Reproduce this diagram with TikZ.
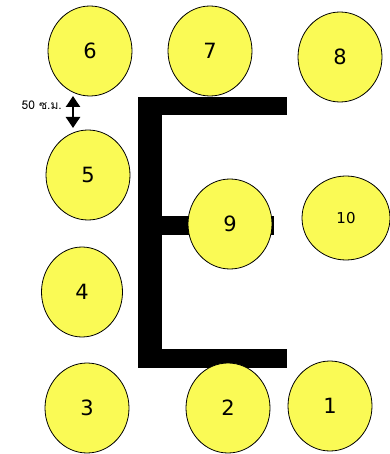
\documentclass[tikz,border=0pt]{standalone}
\usepackage{fontspec}
\setmainfont{DejaVu Sans}
\newfontfamily\thaifont[Script=Thai]{Loma}
\usetikzlibrary{arrows.meta,shapes.geometric}

\begin{document}
\begin{tikzpicture}[x=1pt,y=-1pt,
  seat/.style={draw,ellipse,fill=seatyellow,line width=.8pt,
    minimum width=84pt,minimum height=90pt,inner sep=0pt,font=\fontsize{21}{24}\selectfont},
  bar/.style={fill=black},
  gap/.style={{Triangle[length=11pt,width=14pt]}-{Triangle[length=11pt,width=14pt]},line width=2.5pt},
  lab/.style={font=\thaifont\fontsize{12}{14}\selectfont,inner sep=1pt}]
\definecolor{seatyellow}{RGB}{250,250,85}
\useasboundingbox (0,0) rectangle (389,454);
% table
\fill[bar] (138,97) rectangle (287,115);
\fill[bar] (138,97) rectangle (162,368);
\fill[bar] (162,216) rectangle (274,235);
\fill[bar] (138,349) rectangle (287,368);
% seats
\node[seat] (s6) at (90,51) {6};
\node[seat] (s7) at (210,51) {7};
\node[seat] (s8) at (340,57) {8};
\node[seat] (s5) at (88,175) {5};
\node[seat] (s9) at (230,224) {9};
\node[seat,minimum width=88pt,minimum height=84pt,font=\fontsize{15}{17}\selectfont] (s10) at (346,218) {10};
\node[seat,minimum width=81pt] (s4) at (82,292) {4};
\node[seat] (s3) at (87,408) {3};
\node[seat] (s2) at (228,408) {2};
\node[seat] (s1) at (330,406) {1};
% spacing
\coordinate (top) at (73,96);
\coordinate (bot) at (73,128);
\draw[gap] (top) -- (bot);
\node[lab,anchor=east] (dist) at (63,105) {50 ซ.ม.};
\end{tikzpicture}
\end{document}
